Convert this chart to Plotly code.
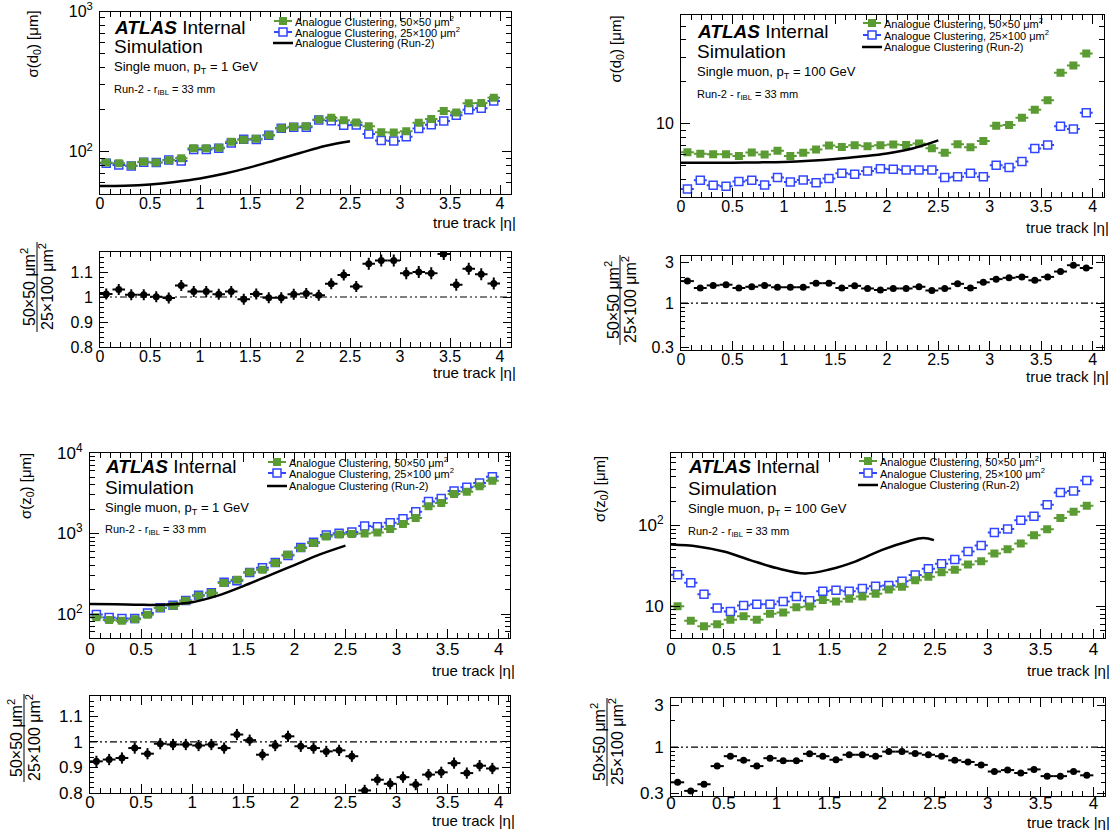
import math
import plotly.graph_objects as go

# ---------------------------------------------------------------- data ----
eta_bins = [0.0625, 0.1875, 0.3125, 0.4375, 0.5625, 0.6875, 0.8125, 0.9375,
            1.0625, 1.1875, 1.3125, 1.4375, 1.5625, 1.6875, 1.8125, 1.9375,
            2.0625, 2.1875, 2.3125, 2.4375, 2.5625, 2.6875, 2.8125, 2.9375,
            3.0625, 3.1875, 3.3125, 3.4375, 3.5625, 3.6875, 3.8125, 3.9375]

# sigma(d0), single muon pT = 1 GeV
d0_1gev_50x50 = [84, 83, 80, 85, 84, 87, 90, 106, 106, 107, 118, 122, 124, 131, 147, 151,
                 152, 170, 175, 168, 162, 152, 138, 137, 140, 161, 171, 195, 191, 222, 223, 243]
d0_1gev_25x100 = [83, 80.6, 79.3, 84.2, 83.9, 87.3, 86, 103.7, 103.7, 105.8, 115.5, 123.1,
                  122.5, 131.4, 147.4, 149.4, 149.9, 168.8, 166.2, 154.4, 155.5, 134.2, 120.4,
                  119.5, 127.9, 146.4, 156.2, 165.8, 182.1, 199.5, 204.4, 230.5]
d0_1gev_ratio = [1.012, 1.03, 1.009, 1.009, 1.001, 0.996, 1.046, 1.022, 1.022, 1.011, 1.022,
                 0.991, 1.012, 0.997, 0.997, 1.011, 1.014, 1.007, 1.053, 1.088, 1.042, 1.133,
                 1.146, 1.146, 1.095, 1.1, 1.095, 1.172, 1.049, 1.113, 1.091, 1.054]
d0_1gev_ratio_err = [0.022, 0.022, 0.022, 0.022, 0.022, 0.022, 0.022, 0.022, 0.022, 0.022,
                     0.022, 0.022, 0.022, 0.022, 0.022, 0.022, 0.022, 0.022, 0.022, 0.022,
                     0.022, 0.024, 0.024, 0.024, 0.024, 0.024, 0.024, 0.024, 0.024, 0.024,
                     0.024, 0.024]
eta_run2_d0_1gev = [0, 0.25, 0.5, 0.75, 1.0, 1.25, 1.5, 1.75, 2.0, 2.25, 2.5]
d0_1gev_run2 = [57, 57.3, 58.5, 61, 64.6, 70, 77.4, 87, 98, 110, 119]

# sigma(d0), single muon pT = 100 GeV
d0_100gev_50x50 = [6.25, 6.08, 6.05, 6.05, 5.86, 6.22, 6.02, 6.39, 5.86, 6.19, 6.53, 6.98,
                   6.82, 7.01, 6.9, 7.01, 7.09, 7.05, 7.21, 6.68, 6.19, 7.13, 6.79, 7.53,
                   9.68, 9.78, 11.03, 12.57, 14.74, 23.2, 26.1, 31.8]
d0_100gev_25x100 = [3.40, 3.94, 3.62, 3.56, 3.85, 3.94, 3.64, 4.11, 3.83, 3.95, 3.78, 4.05,
                    4.42, 4.34, 4.58, 4.76, 4.71, 4.66, 4.66, 4.66, 4.11, 4.17, 4.42, 4.17,
                    5.03, 4.86, 5.37, 6.64, 7.05, 9.57, 9.17, 11.97]
d0_100gev_ratio = [1.82, 1.51, 1.62, 1.65, 1.51, 1.56, 1.62, 1.54, 1.54, 1.54, 1.72, 1.72,
                   1.51, 1.60, 1.49, 1.43, 1.49, 1.49, 1.56, 1.41, 1.49, 1.69, 1.51, 1.76,
                   1.92, 1.99, 2.04, 1.86, 2.04, 2.36, 2.80, 2.60]
d0_100gev_ratio_err = [0.05, 0.04, 0.04, 0.04, 0.04, 0.04, 0.04, 0.04, 0.04, 0.04, 0.04,
                       0.04, 0.04, 0.04, 0.04, 0.04, 0.04, 0.04, 0.04, 0.04, 0.04, 0.04,
                       0.04, 0.05, 0.05, 0.05, 0.05, 0.05, 0.05, 0.06, 0.07, 0.07]
eta_run2_d0_100gev = [0, 0.25, 0.5, 0.75, 1.0, 1.25, 1.5, 1.75, 2.0, 2.25, 2.5]
d0_100gev_run2 = [5.25, 5.25, 5.26, 5.28, 5.32, 5.42, 5.58, 5.82, 6.12, 6.65, 7.6]

# sigma(z0), single muon pT = 1 GeV
z0_1gev_50x50 = [91, 84.3, 82.7, 85.9, 98, 119, 127, 146, 169, 182, 242, 266, 329, 355, 429,
                 544, 658, 759, 918, 972, 981, 1000, 1028, 1132, 1306, 1550, 2163, 2378, 3073,
                 3288, 3828, 4500]
z0_1gev_25x100 = [98.5, 90.5, 88.3, 88, 102.7, 119.8, 128.3, 147.5, 171.4, 183.8, 248, 258.5,
                  326.7, 373.7, 435, 532, 669, 778, 953, 1005, 1039, 1235, 1207, 1354, 1515,
                  1861, 2480, 2699, 3351, 3745, 4221, 5022]
z0_1gev_ratio = [0.924, 0.931, 0.937, 0.976, 0.954, 0.993, 0.99, 0.99, 0.986, 0.99, 0.976,
                 1.029, 1.007, 0.95, 0.986, 1.022, 0.983, 0.976, 0.963, 0.967, 0.944, 0.81,
                 0.852, 0.836, 0.862, 0.833, 0.872, 0.881, 0.917, 0.878, 0.907, 0.896]
z0_1gev_ratio_err = [0.022, 0.022, 0.022, 0.022, 0.022, 0.022, 0.022, 0.022, 0.022, 0.022,
                     0.022, 0.022, 0.022, 0.022, 0.022, 0.022, 0.022, 0.022, 0.022, 0.022,
                     0.022, 0.022, 0.022, 0.022, 0.022, 0.022, 0.022, 0.022, 0.022, 0.022,
                     0.022, 0.022]
eta_run2_z0_1gev = [0, 0.25, 0.5, 0.75, 1.0, 1.25, 1.5, 1.75, 2.0, 2.25, 2.5]
z0_1gev_run2 = [133, 132, 130, 131, 140, 169, 222, 300, 405, 548, 705]

# sigma(z0), single muon pT = 100 GeV
z0_100gev_50x50 = [10, 6.6, 5.64, 5.98, 6.81, 7.52, 6.81, 8.05, 8.37, 9.7, 9.9, 11.9, 11.4,
                   12.4, 13.2, 14.3, 16.1, 17.4, 21, 23.2, 26.4, 28.3, 32.8, 36.1, 44.9, 51,
                   59.8, 75.9, 89.7, 124, 148, 176]
z0_100gev_25x100 = [24.6, 19.6, 14.1, 9.5, 8.6, 10.2, 10.6, 10.6, 11.4, 13.2, 11.7, 15.3,
                    15.8, 15.3, 16.6, 17.7, 18.1, 20.4, 24.3, 29.1, 33.7, 38, 47.6, 56.4, 82,
                    90.6, 116, 130, 181, 256, 269, 361]
z0_100gev_ratio = [0.40, 0.32, 0.38, 0.61, 0.79, 0.71, 0.61, 0.75, 0.70, 0.70, 0.84, 0.79,
                   0.72, 0.82, 0.82, 0.79, 0.89, 0.89, 0.85, 0.82, 0.79, 0.71, 0.68, 0.63,
                   0.53, 0.55, 0.51, 0.56, 0.47, 0.47, 0.53, 0.48]
z0_100gev_ratio_err = [0.015, 0.012, 0.014, 0.02, 0.02, 0.02, 0.02, 0.02, 0.02, 0.02, 0.02,
                       0.02, 0.02, 0.02, 0.02, 0.02, 0.02, 0.02, 0.02, 0.02, 0.02, 0.02,
                       0.02, 0.02, 0.015, 0.015, 0.015, 0.015, 0.015, 0.015, 0.015, 0.015]
eta_run2_z0_100gev = [0, 0.25, 0.5, 0.75, 1.0, 1.27, 1.5, 1.75, 2.0, 2.25, 2.39, 2.49]
z0_100gev_run2 = [58, 55, 47.6, 37.3, 29.7, 25.5, 28.5, 36, 50, 64, 70, 66]

x_ticks = [0, 0.5, 1, 1.5, 2, 2.5, 3, 3.5, 4]
x_tick_text = ["0", "0.5", "1", "1.5", "2", "2.5", "3", "3.5", "4"]
legend_labels = ["Analogue Clustering, 50\u00d750 \u03bcm<sup>2</sup>",
                 "Analogue Clustering, 25\u00d7100 \u03bcm<sup>2</sup>",
                 "Analogue Clustering (Run-2)"]
ratio_num = "50\u00d750 \u03bcm<sup>2</sup>"
ratio_den = "25\u00d7100 \u03bcm<sup>2</sup>"

# ---------------------------------------------------------------- style ----
W, H = 1109, 830
FONT = "Liberation Sans, Arial, Helvetica, sans-serif"
GREEN = "#5b9b33"
BLUE = "#3046ff"
HALF_BIN = 0.0625
X_MAX = 4.11


def fx(x):
    return x / W


def fy(y):
    return 1 - y / H


def log_minor(decades):
    return [k * 10 ** d for d in decades for k in range(2, 10)]


panels = [
    dict(main=(100, 11.5, 511, 194), ratio=(100, 252, 511, 347), tick=16, rstand=-5,
         var="d", pt="1",
         green=d0_1gev_50x50, blue=d0_1gev_25x100, ratio_y=d0_1gev_ratio,
         ratio_err=d0_1gev_ratio_err, run2_x=eta_run2_d0_1gev, run2_y=d0_1gev_run2,
         yrange=[math.log10(50), 3.0005], ytv=[100, 1000],
         ytt=["10<sup>2</sup>", "10<sup>3</sup>"],
         yminor=[50, 60, 70, 80, 90] + log_minor([2]),
         rlog=False,
         txt_x=113, txt_y=(27, 47, 68, 90), leg_x=283, leg_y=(21, 32, 43),
         ytitle_x=33, ytitle_top=10, xt_main=222, xt_ratio=372,
         frac_x=(28, 37, 46), frac_y=(242, 287, 332)),
    dict(main=(681, 15, 1104, 196.7), ratio=(681, 256, 1104, 350), tick=16, rstand=-5,
         var="d", pt="100",
         green=d0_100gev_50x50, blue=d0_100gev_25x100, ratio_y=d0_100gev_ratio,
         ratio_err=d0_100gev_ratio_err, run2_x=eta_run2_d0_100gev, run2_y=d0_100gev_run2,
         yrange=[math.log10(3), math.log10(60)], ytv=[10], ytt=["10"],
         yminor=[3, 4, 5, 6, 7, 8, 9, 20, 30, 40, 50, 60],
         rlog=True,
         txt_x=696, txt_y=(31, 51, 72, 95), leg_x=872, leg_y=(23, 35, 47),
         ytitle_x=616, ytitle_top=15, xt_main=227, xt_ratio=376,
         frac_x=(612, 620, 629), frac_y=(255, 300, 345)),
    dict(main=(90, 452.7, 510, 638.3), ratio=(90, 696, 510, 793), tick=17, rstand=-6,
         var="z", pt="1",
         green=z0_1gev_50x50, blue=z0_1gev_25x100, ratio_y=z0_1gev_ratio,
         ratio_err=z0_1gev_ratio_err, run2_x=eta_run2_z0_1gev, run2_y=z0_1gev_run2,
         yrange=[math.log10(50), 4.0005], ytv=[100, 1000, 10000],
         ytt=["10<sup>2</sup>", "10<sup>3</sup>", "10<sup>4</sup>"],
         yminor=[50, 60, 70, 80, 90] + log_minor([2, 3]),
         rlog=False,
         txt_x=104, txt_y=(466, 487, 508, 530), leg_x=277, leg_y=(462, 473, 486),
         ytitle_x=26, ytitle_top=452, xt_main=670, xt_ratio=820,
         frac_x=(15, 24, 33), frac_y=(694, 738, 782)),
    dict(main=(671, 452.7, 1105, 638.3), ratio=(671, 698, 1105, 796), tick=17, rstand=-8,
         var="z", pt="100",
         green=z0_100gev_50x50, blue=z0_100gev_25x100, ratio_y=z0_100gev_ratio,
         ratio_err=z0_100gev_ratio_err, run2_x=eta_run2_z0_100gev, run2_y=z0_100gev_run2,
         yrange=[math.log10(4), math.log10(800)], ytv=[10, 100],
         ytt=["10", "10<sup>2</sup>"],
         yminor=[4, 5, 6, 7, 8, 9] + log_minor([1]) + [200, 300, 400, 500, 600, 700, 800],
         rlog=True,
         txt_x=687, txt_y=(466, 488, 509, 532), leg_x=868, leg_y=(461, 473, 485),
         ytitle_x=600, ytitle_top=455, xt_main=670, xt_ratio=822,
         frac_x=(598, 607, 616), frac_y=(698, 742, 786)),
]

fig = go.Figure()
layout = dict(template="none", width=W, height=H, margin=dict(l=0, r=0, t=0, b=0, pad=0),
              paper_bgcolor="white", plot_bgcolor="white", showlegend=False,
              font=dict(family=FONT, color="black"))
annotations = []
shapes = []


def add_text(x, y, s, size, xanchor="left", yanchor="middle", angle=0):
    annotations.append(dict(x=fx(x), y=fy(y), xref="paper", yref="paper", text=s,
                            showarrow=False, xanchor=xanchor, yanchor=yanchor,
                            textangle=angle, borderpad=0,
                            font=dict(size=size, family=FONT, color="black")))


def axis_common(tick_size):
    return dict(showline=True, linecolor="black", linewidth=1, mirror="allticks",
                ticks="inside", tickcolor="black", tickwidth=1, showgrid=False,
                zeroline=False, automargin=False,
                tickfont=dict(size=tick_size, family=FONT, color="black"))


for i, p in enumerate(panels):
    nm, nr = 2 * i + 1, 2 * i + 2
    xm, ym = ("x" if nm == 1 else f"x{nm}"), ("y" if nm == 1 else f"y{nm}")
    xr, yr = f"x{nr}", f"y{nr}"
    L, T, R, B = p["main"]
    rL, rT, rR, rB = p["ratio"]

    # x axes (main and ratio share the same |eta| scale)
    for n, (l, t, r, b), yname, standoff in ((nm, p["main"], ym, -5),
                                             (nr, p["ratio"], yr, p["rstand"])):
        key = "xaxis" if n == 1 else f"xaxis{n}"
        ax = axis_common(p["tick"])
        ax.update(domain=[fx(l), fx(r)], range=[0, X_MAX], anchor=yname,
                  tickmode="array", tickvals=x_ticks, ticktext=x_tick_text, ticklen=9,
                  ticklabelstandoff=standoff,
                  minor=dict(ticks="inside", ticklen=5, dtick=0.1, tick0=0,
                             tickcolor="black"))
        layout[key] = ax

    # main y axis
    key = "yaxis" if nm == 1 else f"yaxis{nm}"
    ax = axis_common(p["tick"])
    ax.update(domain=[fy(B), fy(T)], type="log", range=p["yrange"], anchor=xm,
              tickmode="array", tickvals=p["ytv"], ticktext=p["ytt"], ticklen=9,
              ticklabelstandoff=3,
              minor=dict(ticks="inside", ticklen=5, tickmode="array",
                         tickvals=p["yminor"], tickcolor="black"))
    layout[key] = ax

    # ratio y axis
    ax = axis_common(p["tick"])
    if p["rlog"]:
        ax.update(type="log", range=[math.log10(0.28), math.log10(3.6)],
                  tickmode="array", tickvals=[0.3, 1, 3], ticktext=["0.3", "1", "3"],
                  minor=dict(ticks="inside", ticklen=4, tickmode="array",
                             tickvals=[0.4, 0.5, 0.6, 0.7, 0.8, 0.9, 2],
                             tickcolor="black"))
    else:
        ax.update(range=[0.8, 1.18], tickmode="array", tickvals=[0.8, 0.9, 1, 1.1],
                  ticktext=["0.8", "0.9", "1", "1.1"],
                  minor=dict(ticks="inside", ticklen=4, dtick=0.02, tick0=0.8,
                             tickcolor="black"))
    ax.update(domain=[fy(rB), fy(rT)], anchor=xr, ticklen=8, ticklabelstandoff=3)
    layout[f"yaxis{nr}"] = ax

    # main panel traces
    fig.add_trace(go.Scatter(
        x=eta_bins, y=p["blue"], mode="markers", xaxis=xm, yaxis=ym,
        marker=dict(symbol="square", size=8, color="white",
                    line=dict(color=BLUE, width=1.5)),
        error_x=dict(type="constant", value=HALF_BIN, color=BLUE, thickness=2, width=0)))
    fig.add_trace(go.Scatter(
        x=eta_bins, y=p["green"], mode="markers", xaxis=xm, yaxis=ym,
        marker=dict(symbol="square", size=8, color=GREEN, line=dict(width=0)),
        error_x=dict(type="constant", value=HALF_BIN, color=GREEN, thickness=2, width=0)))
    fig.add_trace(go.Scatter(
        x=p["run2_x"], y=p["run2_y"], mode="lines", xaxis=xm, yaxis=ym,
        line=dict(color="black", width=2.5, shape="spline", smoothing=1.0)))

    # ratio panel traces
    fig.add_trace(go.Scatter(
        x=[0, X_MAX], y=[1, 1], mode="lines", xaxis=xr, yaxis=yr,
        line=dict(color="black", width=1.2, dash="7px,3px,2px,3px,2px,3px")))
    fig.add_trace(go.Scatter(
        x=eta_bins, y=p["ratio_y"], mode="markers", xaxis=xr, yaxis=yr,
        marker=dict(symbol="circle", size=7, color="black"),
        error_x=dict(type="constant", value=HALF_BIN, color="black", thickness=2, width=0),
        error_y=dict(type="data", array=p["ratio_err"], color="black", thickness=2,
                     width=0)))

    # labels inside the main frame
    tx = p["txt_x"]
    ty = p["txt_y"]
    add_text(tx, ty[0], "<b><i>ATLAS</i></b> Internal", 19)
    add_text(tx, ty[1], "Simulation", 19)
    add_text(tx, ty[2], f"Single muon, p<sub>T</sub> = {p['pt']} GeV", 13)
    add_text(tx, ty[3], "Run-2 - r<sub>IBL</sub> = 33 mm", 11)

    # legend
    lx = p["leg_x"]
    for k, (ly, lab) in enumerate(zip(p["leg_y"], legend_labels)):
        if k == 0:
            shapes.append(dict(type="line", xref="paper", yref="paper", x0=fx(lx - 9),
                               x1=fx(lx + 9), y0=fy(ly), y1=fy(ly),
                               line=dict(color=GREEN, width=2)))
            shapes.append(dict(type="rect", xref="paper", yref="paper", x0=fx(lx - 4),
                               x1=fx(lx + 4), y0=fy(ly + 4), y1=fy(ly - 4),
                               fillcolor=GREEN, line=dict(width=0)))
        elif k == 1:
            shapes.append(dict(type="line", xref="paper", yref="paper", x0=fx(lx - 9),
                               x1=fx(lx + 9), y0=fy(ly), y1=fy(ly),
                               line=dict(color=BLUE, width=2)))
            shapes.append(dict(type="rect", xref="paper", yref="paper", x0=fx(lx - 4),
                               x1=fx(lx + 4), y0=fy(ly + 4), y1=fy(ly - 4),
                               fillcolor="white", line=dict(color=BLUE, width=1.5)))
        else:
            shapes.append(dict(type="line", xref="paper", yref="paper", x0=fx(lx - 10),
                               x1=fx(lx + 10), y0=fy(ly), y1=fy(ly),
                               line=dict(color="black", width=2.5)))
        add_text(lx + 11, ly, lab, 11)

    # axis titles
    add_text(p["ytitle_x"], p["ytitle_top"],
             f"\u03c3({p['var']}<sub>0</sub>) [\u03bcm]", 15,
             xanchor="center", yanchor="top", angle=-90)
    add_text(R + 6, p["xt_main"], "true track |\u03b7|", 15, xanchor="right")
    add_text(rR + 6, p["xt_ratio"], "true track |\u03b7|", 15, xanchor="right")

    # ratio title written as a fraction
    a, m, c = p["frac_x"]
    y0, yc, y1 = p["frac_y"]
    add_text(a, yc, ratio_num, 16, xanchor="center", angle=-90)
    add_text(c, yc, ratio_den, 16, xanchor="center", angle=-90)
    shapes.append(dict(type="line", xref="paper", yref="paper", x0=fx(m), x1=fx(m),
                       y0=fy(y0), y1=fy(y1), line=dict(color="black", width=1)))

layout["annotations"] = annotations
layout["shapes"] = shapes
fig.update_layout(**layout)
fig.write_html("out.html")
